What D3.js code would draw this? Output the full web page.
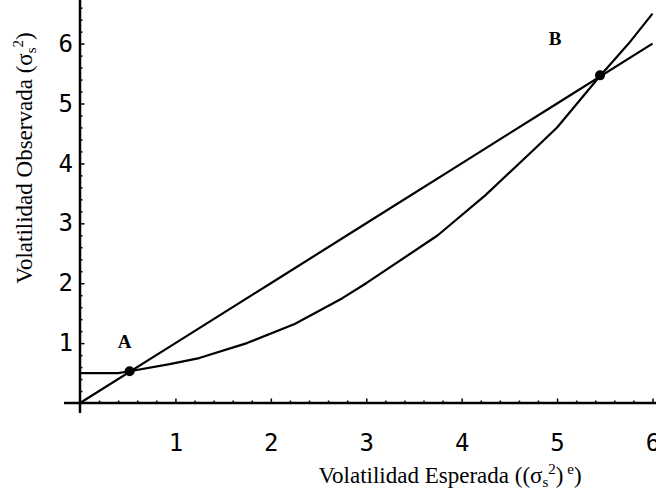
<!DOCTYPE html>
<html>
<head>
<meta charset="utf-8">
<script src="https://cdn.jsdelivr.net/npm/d3@7"></script>
<style>
  body { margin: 0; background: #fff; }
  svg { display: block; }
  .tick text { font-family: "DejaVu Sans Mono", monospace; font-size: 24px; fill: #000; }
  .tick line { stroke: #000; stroke-width: 1.5px; }
  .title { font-family: "Liberation Serif", "Times New Roman", serif; fill: #000; }
  .pt { font-family: "Liberation Serif", "Times New Roman", serif; font-size: 19px; font-weight: bold; fill: #000; }
</style>
</head>
<body>
<div id="chart"></div>
<script>
// expected vs observed volatility
var lineX = [0, 1, 2, 3, 4, 5, 6];
var lineY = [0, 1, 2, 3, 4, 5, 6];

var curveX = [0, 0.4, 0.52, 0.94, 1.25, 1.75, 2.25, 2.75, 3.0, 3.75, 4.25, 4.75, 5.0, 5.45, 5.75, 6.0];
var curveY = [0.5, 0.5, 0.53, 0.65, 0.75, 1.0, 1.32, 1.75, 2.0, 2.8, 3.47, 4.22, 4.6, 5.46, 6.0, 6.5];

var pointLabels = ["A", "B"];
var pointX = [0.52, 5.45];
var pointY = [0.53, 5.47];

var tickValues = [1, 2, 3, 4, 5, 6];

var width = 656, height = 495;

var svg = d3.select("#chart").append("svg")
    .attr("width", width)
    .attr("height", height);

var x = d3.scaleLinear().domain([0, 6]).range([80, 652.5]);
var y = d3.scaleLinear().domain([0, 6]).range([403, 43.6]);

var minor = d3.range(0.2, 6.81, 0.2).filter(function(d) { return Math.abs(d - Math.round(d)) > 0.01; });

// minor ticks
svg.append("g")
    .attr("transform", "translate(0," + y(0) + ")")
    .call(d3.axisBottom(x).tickValues(minor).tickSizeInner(-2.5).tickSizeOuter(0).tickFormat(""))
    .call(function(g) { g.select(".domain").remove(); });
svg.append("g")
    .attr("transform", "translate(" + x(0) + ",0)")
    .call(d3.axisLeft(y).tickValues(minor.filter(function(d) { return d < 6.7; })).tickSizeInner(-2.5).tickSizeOuter(0).tickFormat(""))
    .call(function(g) { g.select(".domain").remove(); });

// major ticks
svg.append("g")
    .attr("transform", "translate(0," + y(0) + ")")
    .call(d3.axisBottom(x).tickValues(tickValues).tickFormat(d3.format("d")).tickSizeInner(-4.5).tickSizeOuter(0).tickPadding(31))
    .call(function(g) { g.select(".domain").remove(); });
svg.append("g")
    .attr("transform", "translate(" + x(0) + ",0)")
    .call(d3.axisLeft(y).tickValues(tickValues).tickFormat(d3.format("d")).tickSizeInner(-4.5).tickSizeOuter(0).tickPadding(7))
    .call(function(g) { g.select(".domain").remove(); });

// axis lines
svg.append("line")
    .attr("x1", x(0) - 16).attr("x2", width)
    .attr("y1", y(0)).attr("y2", y(0))
    .style("stroke", "#000").style("stroke-width", 2.5);
svg.append("line")
    .attr("x1", x(0)).attr("x2", x(0))
    .attr("y1", y(0) + 10).attr("y2", 0)
    .style("stroke", "#000").style("stroke-width", 2.5);

var line = d3.line()
    .x(function(d) { return x(d[0]); })
    .y(function(d) { return y(d[1]); });

svg.append("path")
    .datum(d3.zip(lineX, lineY))
    .attr("d", line)
    .style("fill", "none").style("stroke", "#000").style("stroke-width", 2.2);

svg.append("path")
    .datum(d3.zip(curveX, curveY))
    .attr("d", line)
    .style("fill", "none").style("stroke", "#000").style("stroke-width", 2.2)
    .style("stroke-linejoin", "round");

svg.selectAll(".dot")
    .data(d3.zip(pointX, pointY))
    .enter().append("circle")
    .attr("class", "dot")
    .attr("cx", function(d) { return x(d[0]); })
    .attr("cy", function(d) { return y(d[1]); })
    .attr("r", 5);

svg.append("text").attr("class", "pt")
    .attr("x", x(pointX[0]) - 5).attr("y", y(pointY[0]) - 23)
    .attr("text-anchor", "middle")
    .text(pointLabels[0]);
svg.append("text").attr("class", "pt")
    .attr("x", x(pointX[1]) - 45).attr("y", y(pointY[1]) - 30)
    .attr("text-anchor", "middle")
    .text(pointLabels[1]);

// axis titles
var xt = svg.append("text").attr("class", "title")
    .attr("font-size", "23px")
    .attr("x", 450).attr("y", 483)
    .attr("text-anchor", "middle");
xt.append("tspan").text("Volatilidad Esperada ((σ");
xt.append("tspan").attr("font-size", "15px").attr("dy", 4).text("s");
xt.append("tspan").attr("font-size", "15px").attr("dy", -13).text("2");
xt.append("tspan").attr("dy", 9).text(")");
xt.append("tspan").attr("font-size", "15px").attr("dy", -9).text(" e");
xt.append("tspan").attr("dy", 9).text(")");

var yt = svg.append("text").attr("class", "title")
    .attr("font-size", "23px")
    .attr("transform", "translate(32,158) rotate(-90)")
    .attr("text-anchor", "middle");
yt.append("tspan").text("Volatilidad Observada (σ");
yt.append("tspan").attr("font-size", "15px").attr("dy", 4).text("s");
yt.append("tspan").attr("font-size", "15px").attr("dy", -13).text("2");
yt.append("tspan").attr("dy", 9).text(")");
</script>
</body>
</html>
